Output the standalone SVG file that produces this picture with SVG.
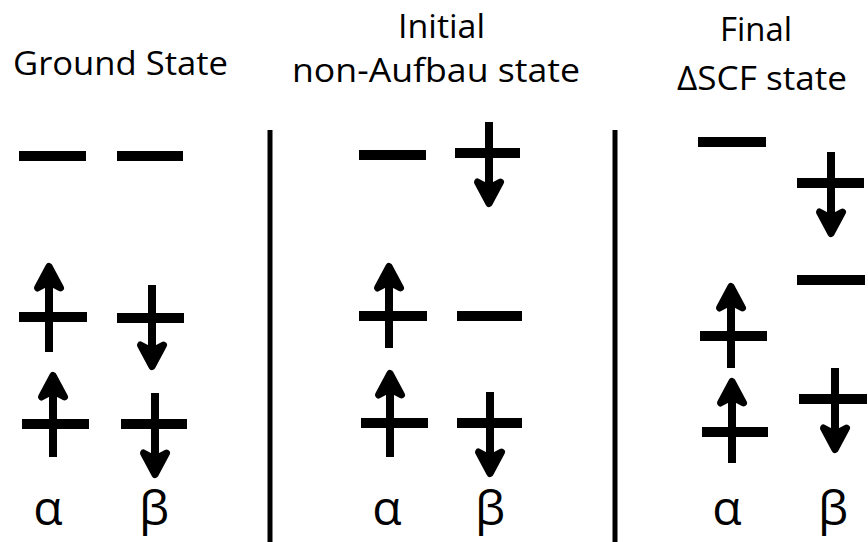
<svg xmlns="http://www.w3.org/2000/svg" xmlns:xlink="http://www.w3.org/1999/xlink" width="868" height="542" viewBox="0 0 868 542">
<style>
.bg{fill:#fff}
.lvl{stroke:#000;stroke-width:10;stroke-linecap:butt}
.shaft{stroke:#000;stroke-width:8;stroke-linecap:butt}
.head{fill:#000;stroke:#000;stroke-width:7;stroke-linejoin:round}
.div{stroke:#000;stroke-width:5}
.title{font-family:"Open Sans","Noto Sans",sans-serif;font-size:33px;fill:#000}
.spin{font-family:"Open Sans","Noto Sans",sans-serif;font-size:48px;fill:#000;text-anchor:middle}
</style>
<defs>
<path id="up" class="head" d="M0,3.5 L11.5,25 L0,19 L-11.5,25 Z"/>
<path id="dn" class="head" d="M0,-3.5 L11.5,-25 L0,-19 L-11.5,-25 Z"/>
</defs>
<rect class="bg" x="0" y="0" width="868" height="542"/>

<g id="titles">
<text class="title" x="13" y="75" textLength="215" lengthAdjust="spacingAndGlyphs">Ground State</text>
<text class="title" x="398" y="38" textLength="87" lengthAdjust="spacingAndGlyphs">Initial</text>
<text class="title" x="292" y="82" textLength="288" lengthAdjust="spacingAndGlyphs">non-Aufbau state</text>
<text class="title" x="720" y="41" textLength="72" lengthAdjust="spacingAndGlyphs">Final</text>
<text class="title" x="677" y="90" textLength="170" lengthAdjust="spacingAndGlyphs">ΔSCF state</text>
</g>

<g id="connectors">
<line class="div" x1="270" y1="130" x2="270" y2="542"/>
<line class="div" x1="615" y1="130" x2="615" y2="542"/>
</g>

<!-- Ground state -->
<g id="gs-top-alpha"><line class="lvl" x1="19" y1="156" x2="86" y2="156"/></g>
<g id="gs-top-beta"><line class="lvl" x1="117" y1="156" x2="183" y2="156"/></g>
<g id="gs-mid-alpha"><line class="lvl" x1="19" y1="317" x2="87" y2="317"/><line class="shaft" x1="49" y1="275" x2="49" y2="352"/><use xlink:href="#up" x="49" y="263"/></g>
<g id="gs-mid-beta"><line class="lvl" x1="117" y1="318" x2="184" y2="318"/><line class="shaft" x1="152" y1="285" x2="152" y2="358"/><use xlink:href="#dn" x="152" y="370"/></g>
<g id="gs-low-alpha"><line class="lvl" x1="22" y1="424" x2="89" y2="424"/><line class="shaft" x1="53" y1="384" x2="53" y2="457"/><use xlink:href="#up" x="53" y="372"/></g>
<g id="gs-low-beta"><line class="lvl" x1="121" y1="424" x2="187" y2="424"/><line class="shaft" x1="155" y1="393" x2="155" y2="466"/><use xlink:href="#dn" x="155" y="478"/></g>
<g id="gs-labels"><text class="spin" x="48" y="525">α</text><text class="spin" x="154" y="525">β</text></g>

<!-- Initial non-Aufbau -->
<g id="in-top-alpha"><line class="lvl" x1="359" y1="155" x2="426" y2="155"/></g>
<g id="in-top-beta"><line class="lvl" x1="455" y1="153" x2="520" y2="153"/><line class="shaft" x1="489" y1="122" x2="489" y2="195"/><use xlink:href="#dn" x="489" y="207"/></g>
<g id="in-mid-alpha"><line class="lvl" x1="359" y1="316" x2="427" y2="316"/><line class="shaft" x1="389" y1="275" x2="389" y2="348"/><use xlink:href="#up" x="389" y="263"/></g>
<g id="in-mid-beta"><line class="lvl" x1="457" y1="316" x2="522" y2="316"/></g>
<g id="in-low-alpha"><line class="lvl" x1="361" y1="423" x2="428" y2="423"/><line class="shaft" x1="390" y1="382" x2="390" y2="457"/><use xlink:href="#up" x="390" y="370"/></g>
<g id="in-low-beta"><line class="lvl" x1="457" y1="423" x2="522" y2="423"/><line class="shaft" x1="490" y1="392" x2="490" y2="465"/><use xlink:href="#dn" x="490" y="477"/></g>
<g id="in-labels"><text class="spin" x="387" y="525">α</text><text class="spin" x="490" y="525">β</text></g>

<!-- Final dSCF -->
<g id="fn-top-alpha"><line class="lvl" x1="698" y1="142" x2="766" y2="142"/></g>
<g id="fn-top-beta"><line class="lvl" x1="797" y1="183" x2="864" y2="183"/><line class="shaft" x1="831" y1="152" x2="831" y2="225"/><use xlink:href="#dn" x="831" y="237"/></g>
<g id="fn-mid-beta"><line class="lvl" x1="797" y1="280" x2="865" y2="280"/></g>
<g id="fn-mid-alpha"><line class="lvl" x1="700" y1="336" x2="767" y2="336"/><line class="shaft" x1="731" y1="295" x2="731" y2="368"/><use xlink:href="#up" x="731" y="283"/></g>
<g id="fn-low-alpha"><line class="lvl" x1="702" y1="432" x2="768" y2="432"/><line class="shaft" x1="732" y1="390" x2="732" y2="463"/><use xlink:href="#up" x="732" y="378"/></g>
<g id="fn-low-beta"><line class="lvl" x1="799" y1="399" x2="867" y2="399"/><line class="shaft" x1="835" y1="368" x2="835" y2="441"/><use xlink:href="#dn" x="835" y="453"/></g>
<g id="fn-labels"><text class="spin" x="727" y="525">α</text><text class="spin" x="833" y="525">β</text></g>
</svg>
